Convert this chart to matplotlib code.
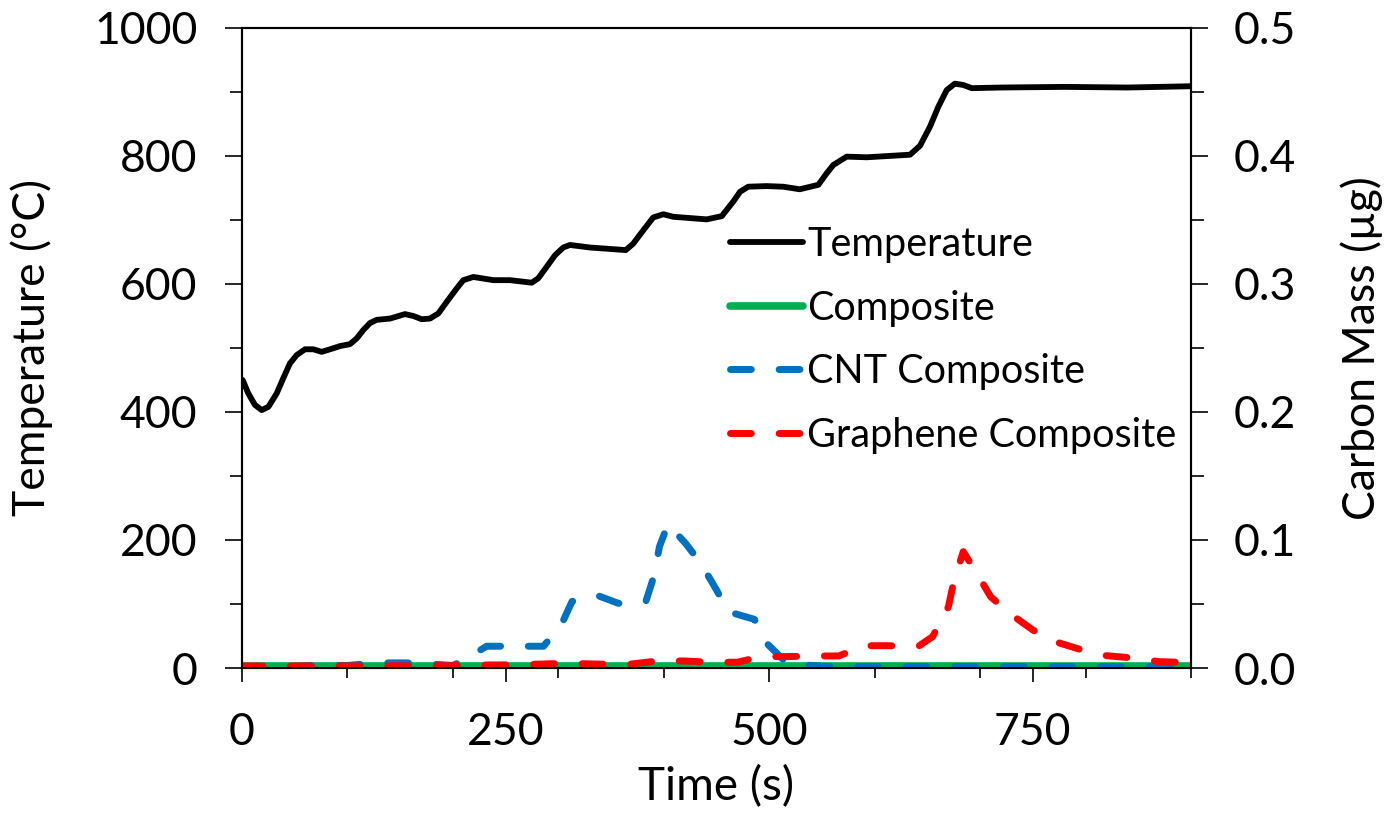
import numpy as np
import matplotlib
matplotlib.use("Agg")
import matplotlib.pyplot as plt
from matplotlib.ticker import FixedLocator, MultipleLocator, FormatStrFormatter

plt.rcParams["font.family"] = ["Lato", "DejaVu Sans"]
plt.rcParams["lines.scale_dashes"] = False

# temperature (left axis)
temp_t = [0.6, 6, 12.3, 18.7, 25, 32.9, 39.2, 45.5, 51.9, 59.7, 67.6, 75.6, 83.5, 93,
          102.4, 108.8, 115, 121.4, 127.7, 140.4, 154.6, 162.5, 170.4, 178.3, 186.2,
          194.1, 203.6, 209.9, 219.4, 238.4, 254.2, 274.8, 281, 289, 296.9, 304.7, 311,
          330, 364, 371, 380.6, 390, 399.6, 409, 440.7, 455, 466, 472.3, 480, 497.6,
          513.4, 529, 546.6, 554.5, 560.8, 573.5, 592.5, 633.5, 643, 652.5, 660.4,
          668.3, 676, 684, 692, 720, 780, 840, 900]
temp_v = [450, 429, 411, 403, 408, 429, 453, 476, 489, 498, 498, 494, 498, 503,
          506, 515, 528, 539, 544, 546, 553, 550, 545, 546, 554,
          572, 593, 606, 611, 606, 606, 602, 609, 627, 645, 657, 661,
          657, 653, 663, 684, 704, 709, 705, 701, 706, 729, 744, 752, 753,
          752, 748, 755, 773, 786, 799, 798, 802, 816, 846, 877,
          903, 913, 911, 906, 907, 908, 907, 909]

# carbon mass (right axis)
comp_t = [0, 100, 200, 300, 400, 500, 600, 700, 800, 900]
comp_v = [0.0014, 0.0014, 0.0014, 0.0014, 0.0014, 0.0014, 0.0014, 0.0014, 0.0014, 0.0014]

cnt_t = [0, 50, 67, 100, 128, 156, 181, 200, 210, 222, 232, 260, 286, 303, 313, 336,
         357, 383, 390, 396, 404, 421, 435, 450, 461, 486, 497, 517, 543, 560, 900]
cnt_v = [0.001, 0.001, 0.002, 0.002, 0.004, 0.004, 0.003, 0.002, 0.006, 0.012, 0.017,
         0.017, 0.017, 0.034, 0.052, 0.057, 0.0505, 0.052, 0.070, 0.095, 0.1125, 0.097,
         0.082, 0.061, 0.044, 0.038, 0.0198, 0.0036, 0.0018, 0.001, 0.001]

gra_t = [0, 100, 200, 222, 260, 308, 340, 368, 394, 419, 445, 470, 492, 517, 543, 566,
         590, 614, 641, 655, 670, 675, 684, 695, 710, 728, 750, 771, 797, 820, 848,
         869, 900]
gra_v = [0.0016, 0.0016, 0.0018, 0.0023, 0.0025, 0.0037, 0.003, 0.003, 0.0055, 0.0055,
         0.0045, 0.0045, 0.0089, 0.0089, 0.0094, 0.0094, 0.0174, 0.0174, 0.0167, 0.0245,
         0.048, 0.0674, 0.0909, 0.0766, 0.0557, 0.0427, 0.0297, 0.0206, 0.014, 0.0096,
         0.0076, 0.005, 0.0042]

fig = plt.figure(figsize=(13.89, 8.13), dpi=100)
ax = fig.add_axes([242/1389, 1-668/813, 949/1389, 640/813])
ax2 = ax.twinx()

dash = (0, (15, 20))
ln_t, = ax.plot(temp_t, temp_v, color="black", lw=4.2,
                solid_capstyle="round", solid_joinstyle="round")
ln_c, = ax2.plot(comp_t, comp_v, color="#00B050", lw=5.5, solid_capstyle="round")
ln_n, = ax2.plot(cnt_t, cnt_v, color="#0070C0", lw=5.0, ls=dash,
                 dash_capstyle="round", dash_joinstyle="round")
ln_g, = ax2.plot(gra_t, gra_v, color="#FF0000", lw=5.0, ls=dash,
                 dash_capstyle="round", dash_joinstyle="round")

ax.set_xlim(0, 900)
ax.set_ylim(0, 1000)
ax2.set_ylim(0, 0.5)

ax.xaxis.set_major_locator(FixedLocator([0, 250, 500, 750]))
ax.xaxis.set_minor_locator(MultipleLocator(100))
ax.yaxis.set_major_locator(MultipleLocator(200))
ax.yaxis.set_minor_locator(MultipleLocator(100))
ax2.yaxis.set_major_locator(MultipleLocator(0.1))
ax2.yaxis.set_minor_locator(MultipleLocator(0.05))
ax2.yaxis.set_major_formatter(FormatStrFormatter("%.1f"))

for a in (ax, ax2):
    for s in a.spines.values():
        s.set_linewidth(1.5)
ax.tick_params(axis="y", which="major", length=12, width=1.2, pad=20, labelsize=32)
ax.tick_params(axis="y", which="minor", length=8.5, width=1.2)
ax.tick_params(axis="x", which="major", length=10, width=1.2, pad=22, labelsize=32)
ax.tick_params(axis="x", which="minor", length=7, width=1.2)
ax2.tick_params(axis="y", which="major", length=12, width=1.2, pad=19, labelsize=32)
ax2.tick_params(axis="y", which="minor", length=9, width=1.2)

ax.set_xlabel("Time (s)", fontsize=33)
ax.set_ylabel("Temperature (°C)", fontsize=32)
ax2.set_ylabel("Carbon Mass (µg)", fontsize=32)
ax.xaxis.set_label_coords(0.5, (668-765)/640)
ax.yaxis.set_label_coords((53-242)/949, 0.5)
ax2.yaxis.set_label_coords((1340-242)/949, 0.5)

leg = ax2.legend([ln_t, ln_c, ln_n, ln_g],
                 ["Temperature", "Composite", "CNT Composite", "Graphene Composite"],
                 loc="upper left", bbox_to_anchor=(730/1389, 1-226/813),
                 bbox_transform=fig.transFigure, frameon=False, fontsize=28.5,
                 handlelength=1.85, handletextpad=0.1, labelspacing=0.67,
                 borderpad=0, borderaxespad=0)

fig.savefig("out.png", dpi=100)
